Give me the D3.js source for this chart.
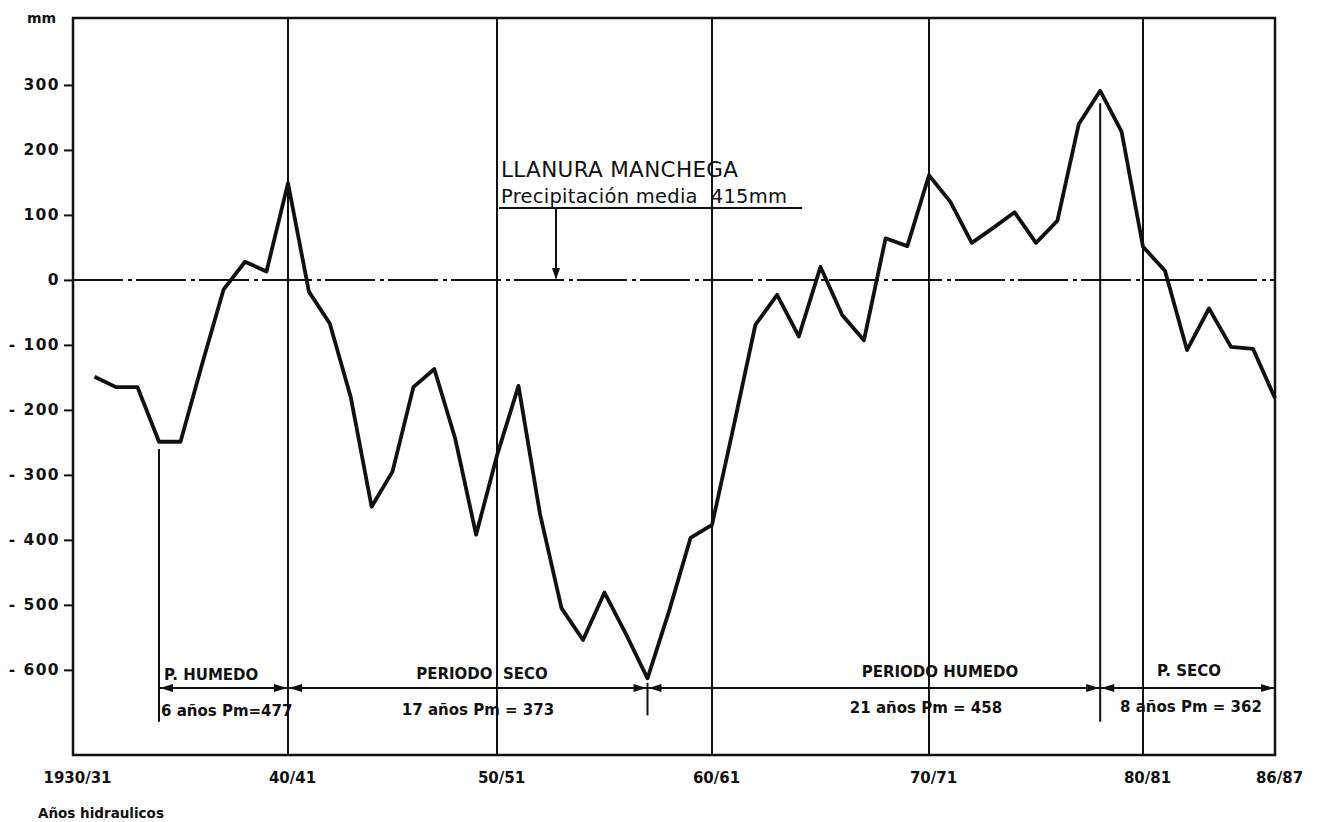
<!DOCTYPE html>
<html>
<head>
<meta charset="utf-8">
<script src="https://cdn.jsdelivr.net/npm/d3@7"></script>
<style>
  body { margin: 0; background: #fff; }
  svg text { font-family: "DejaVu Sans", sans-serif; fill: #111; }
</style>
</head>
<body>
<div id="chart"></div>
<script>
// ---------- Data ---------- //
var years = [1931, 1932, 1933, 1934, 1935, 1936, 1937, 1938, 1939, 1940,
             1941, 1942, 1943, 1944, 1945, 1946, 1947, 1948, 1949, 1950,
             1951, 1952, 1953, 1954, 1955, 1956, 1957, 1958, 1959, 1960,
             1961, 1962, 1963, 1964, 1965, 1966, 1967, 1968, 1969, 1970,
             1971, 1972, 1973, 1974, 1975, 1976, 1977, 1978, 1979, 1980,
             1981, 1982, 1983, 1984, 1985, 1986];
// desviacion respecto a la media (mm)
var desviacion = [-149, -165, -165, -249, -249, -130, -15, 28, 13, 149,
                  -18, -67, -180, -349, -295, -165, -137, -244, -392, -270,
                  -163, -360, -505, -554, -481, -545, -613, -510, -397, -377,
                  -225, -69, -23, -87, 20, -54, -93, 64, 52, 161,
                  120, 57, 80, 104, 57, 91, 240, 291, 228, 51,
                  14, -108, -44, -103, -106, -182];

var xTicks = [1930, 1940, 1950, 1960, 1970, 1980, 1986];
var xTickLabels = ["1930/31", "40/41", "50/51", "60/61", "70/71", "80/81", "86/87"];
var yTicks = [300, 200, 100, 0, -100, -200, -300, -400, -500, -600];

var periodStart = [1934, 1940, 1957, 1978];
var periodEnd = [1940, 1957, 1978, 1986];
var periodName = ["P. HUMEDO", "PERIODO\u00a0\u00a0SECO", "PERIODO HUMEDO", "P. SECO"];
var periodInfo = ["6 años Pm=477", "17 años Pm = 373", "21 años Pm = 458", "8 años Pm = 362"];

var width = 1321;
var height = 822;
var margin = {top: 18, right: 46, bottom: 67, left: 73};

// the hand drawn axis is not quite even, so the scale is piecewise
var x = d3.scaleLinear()
          .domain(xTicks)
          .range([73, 288, 497, 712, 929, 1143, 1275]);

var y = d3.scaleLinear()
          .domain([-731, 403])
          .range([height - margin.bottom, margin.top]);

var svg = d3.select("#chart")
            .append("svg")
            .attr("width", width)
            .attr("height", height);

// ---------- Vertical year lines + labels ---------- //
svg.append("g")
   .attr("transform", `translate(0,${height - margin.bottom})`)
   .call(d3.axisBottom(x).tickValues(xTicks).tickSize(0).tickFormat((d, i) => xTickLabels[i]))
   .call(g => g.select(".domain").remove())
   .call(g => g.selectAll("text")
               .attr("y", 17)
               .attr("dx", 4)
               .attr("font-size", 15)
               .attr("font-weight", "bold")
               .attr("font-family", "DejaVu Sans, sans-serif"));

svg.append("g")
   .attr("stroke", "#111")
   .attr("stroke-width", 2)
   .selectAll("line")
   .data(xTicks.slice(1, -1))
   .join("line")
   .attr("x1", d => x(d))
   .attr("x2", d => x(d))
   .attr("y1", margin.top)
   .attr("y2", height - margin.bottom);

// ---------- Y axis ---------- //
svg.append("g")
   .attr("transform", `translate(${margin.left},0)`)
   .call(d3.axisLeft(y).tickValues(yTicks).tickSize(9).tickPadding(4)
           .tickFormat(d => d < 0 ? "- " + Math.abs(d) : String(d)))
   .call(g => g.select(".domain").remove())
   .call(g => g.selectAll(".tick line").attr("stroke", "#111").attr("stroke-width", 2))
   .call(g => g.selectAll("text")
               .attr("font-size", 15.5)
               .attr("font-weight", "bold")
               .attr("letter-spacing", 1.4)
               .attr("font-family", "DejaVu Sans, sans-serif"));

svg.append("text")
   .attr("x", 27)
   .attr("y", 23)
   .attr("font-size", 14)
   .attr("font-weight", "bold")
   .text("mm");

svg.append("text")
   .attr("x", 38)
   .attr("y", 818)
   .attr("font-size", 13.5)
   .attr("font-weight", "bold")
   .text("Años hidraulicos");

// ---------- Frame ---------- //
svg.append("rect")
   .attr("x", margin.left)
   .attr("y", margin.top)
   .attr("width", width - margin.left - margin.right)
   .attr("height", height - margin.top - margin.bottom)
   .attr("fill", "none")
   .attr("stroke", "#111")
   .attr("stroke-width", 2.5);

// ---------- Zero line (media) ---------- //
svg.append("line")
   .attr("x1", margin.left)
   .attr("x2", width - margin.right)
   .attr("y1", y(0))
   .attr("y2", y(0))
   .attr("stroke", "#111")
   .attr("stroke-width", 2)
   .attr("stroke-dasharray", "50,5,4,4");

// ---------- Title ---------- //
var tx = x(1950) + 4;
svg.append("text")
   .attr("x", tx)
   .attr("y", 177)
   .attr("font-size", 21.5)
   .attr("textLength", 237)
   .text("LLANURA MANCHEGA");

svg.append("text")
   .attr("x", tx)
   .attr("y", 203)
   .attr("font-size", 19.5)
   .attr("textLength", 286)
   .text("Precipitación media\u00a0\u00a0415mm");

svg.append("line")
   .attr("x1", tx - 2).attr("x2", 802)
   .attr("y1", 208).attr("y2", 208)
   .attr("stroke", "#111").attr("stroke-width", 2);

var ax = 556;
svg.append("line")
   .attr("x1", ax).attr("x2", ax)
   .attr("y1", 208).attr("y2", y(0) - 8)
   .attr("stroke", "#111").attr("stroke-width", 2);
svg.append("path")
   .attr("d", `M${ax},${y(0)} L${ax - 4},${y(0) - 12} L${ax + 4},${y(0) - 12} Z`)
   .attr("fill", "#111");

// ---------- Data line ---------- //
var line = d3.line()
             .x((d, i) => x(years[i]))
             .y(d => y(d));

svg.append("path")
   .datum(desviacion)
   .attr("fill", "none")
   .attr("stroke", "#111")
   .attr("stroke-width", 3.8)
   .attr("stroke-linejoin", "round")
   .attr("d", line);

// ---------- Periods ---------- //
var bandY = y(-628);

svg.append("line")
   .attr("x1", x(periodStart[0])).attr("x2", x(periodEnd[periodEnd.length - 1]))
   .attr("y1", bandY).attr("y2", bandY)
   .attr("stroke", "#111").attr("stroke-width", 2);

var arrow = function(tip, dir) {
  // dir = -1 points left, +1 points right
  svg.append("path")
     .attr("d", `M${tip},${bandY} L${tip - dir * 13},${bandY - 4} L${tip - dir * 13},${bandY + 4} Z`)
     .attr("fill", "#111");
};

periodStart.forEach(function(s, i) {
  arrow(x(s) + 1, -1);
  arrow(x(periodEnd[i]) - 1, 1);
});

// period boundary markers
var markers = [
  {year: 1934, top: -260, bottom: -680},
  {year: 1957, top: -620, bottom: -670},
  {year: 1978, top: 272, bottom: -680}
];
svg.append("g")
   .attr("stroke", "#111")
   .attr("stroke-width", 2)
   .selectAll("line")
   .data(markers)
   .join("line")
   .attr("x1", d => x(d.year)).attr("x2", d => x(d.year))
   .attr("y1", d => y(d.top)).attr("y2", d => y(d.bottom));

// label layout: x of name / info and anchors
var labelLayout = [
  {nx: x(1934) + 5, na: "start", ix: x(1934) + 2, ia: "start"},
  {nx: 482, na: "middle", ix: 478, ia: "middle"},
  {nx: 940, na: "middle", ix: 926, ia: "middle"},
  {nx: 1189, na: "middle", ix: 1191, ia: "middle"}
];

svg.append("g")
   .attr("font-size", 15)
   .attr("font-weight", "bold")
   .selectAll("text")
   .data(periodName)
   .join("text")
   .attr("x", (d, i) => labelLayout[i].nx)
   .attr("text-anchor", (d, i) => labelLayout[i].na)
   .attr("y", (d, i) => bandY - 8 - i * 1.5)
   .text(d => d);

svg.append("g")
   .attr("font-size", 15)
   .attr("font-weight", "bold")
   .selectAll("text")
   .data(periodInfo)
   .join("text")
   .attr("x", (d, i) => labelLayout[i].ix)
   .attr("text-anchor", (d, i) => labelLayout[i].ia)
   .attr("y", (d, i) => bandY + 28 - i * 1.5)
   .text(d => d);
</script>
</body>
</html>
